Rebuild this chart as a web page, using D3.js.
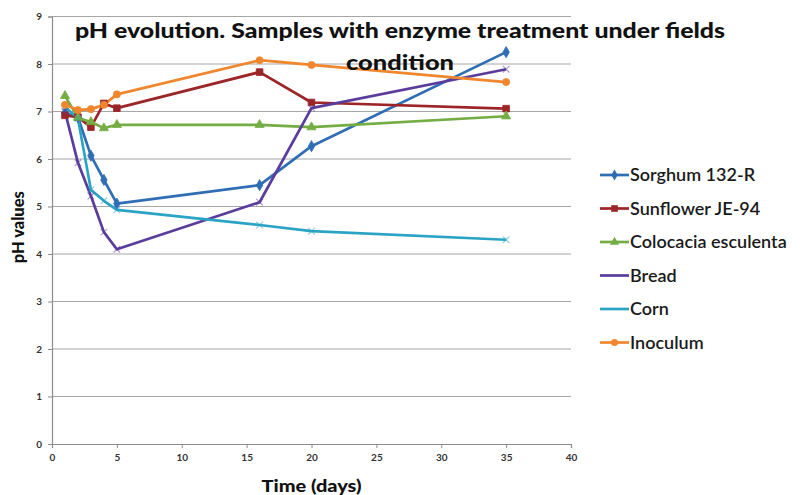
<!DOCTYPE html>
<html>
<head>
<meta charset="utf-8">
<script src="https://cdn.jsdelivr.net/npm/d3@7/dist/d3.min.js"></script>
<style>
  html, body { margin: 0; padding: 0; background: #ffffff; }
  svg { display: block; font-family: Lato, "Open Sans", sans-serif; }
</style>
</head>
<body>
<svg id="chart" width="800" height="495"></svg>
<script>
// Sampling days
const days = [1, 2, 3, 4, 5, 16, 20, 35];

// pH readings per sample
const sorghum    = [6.97, 6.88, 6.07, 5.56, 5.06, 5.45, 6.27, 8.25];
const sunflower  = [6.92, 6.88, 6.67, 7.17, 7.07, 7.83, 7.19, 7.06];
const colocacia  = [7.33, 6.87, 6.78, 6.65, 6.72, 6.72, 6.67, 6.90];
const bread      = [7.00, 5.92, 5.22, 4.46, 4.10, 5.09, 7.07, 7.89];
const corn       = [7.10, 6.85, 5.35, 5.12, 4.93, 4.61, 4.48, 4.30];
const inoculum   = [7.14, 7.03, 7.05, 7.14, 7.36, 8.08, 7.98, 7.62];

const seriesNames = ["Sorghum 132-R", "Sunflower JE-94", "Colocacia esculenta", "Bread", "Corn", "Inoculum"];
const seriesValues = [sorghum, sunflower, colocacia, bread, corn, inoculum];
const seriesColors = ["#2f6db5", "#9c2527", "#74ad43", "#5a3c9c", "#2aa3c4", "#f0862e"];
const seriesMarkers = ["diamond", "square", "triangle", "cross", "cross", "circle"];

const xTicks = [0, 5, 10, 15, 20, 25, 30, 35, 40];
const yTicks = [0, 1, 2, 3, 4, 5, 6, 7, 8, 9];

const titleLines = ["pH evolution. Samples with enzyme treatment under fields", "condition"];

const svg = d3.select("#chart");
const plot = { left: 52, right: 571, top: 16.5, bottom: 444 };

const x = d3.scaleLinear().domain([0, 40]).range([plot.left, plot.right]);
const y = d3.scaleLinear().domain([0, 9]).range([plot.bottom, plot.top]);

// Horizontal gridlines
svg.append("g")
  .selectAll("line")
  .data(yTicks.filter(d => d > 0))
  .join("line")
  .attr("x1", plot.left).attr("x2", plot.right)
  .attr("y1", d => y(d)).attr("y2", d => y(d))
  .attr("stroke", "#a6a6a6").attr("stroke-width", 1);

// Axes
const xAxis = d3.axisBottom(x).tickValues(xTicks).tickSize(4).tickPadding(6);
const yAxis = d3.axisLeft(y).tickValues(yTicks).tickSize(4).tickPadding(6);

const gx = svg.append("g").attr("transform", `translate(0,${plot.bottom})`).call(xAxis);
const gy = svg.append("g").attr("transform", `translate(${plot.left},0)`).call(yAxis);
[gx, gy].forEach(g => {
  g.select(".domain").attr("stroke", "#8c8c8c").attr("stroke-width", 1.2);
  g.selectAll(".tick line").attr("stroke", "#8c8c8c");
  g.selectAll(".tick text").attr("fill", "#333").attr("font-size", 10)
    .attr("font-weight", "bold")
    .attr("font-family", "Lato, sans-serif");
});

// Series lines
const line = d3.line().x((d, i) => x(days[i])).y(d => y(d));
const seriesGroup = svg.append("g");
seriesValues.forEach((vals, k) => {
  seriesGroup.append("path")
    .datum(vals)
    .attr("d", line)
    .attr("fill", "none")
    .attr("stroke", seriesColors[k])
    .attr("stroke-width", 2.7)
    .attr("stroke-linejoin", "round");
});

// Marker shapes
const symbolFor = {
  diamond: d3.symbol().type(d3.symbolDiamond).size(36),
  square: d3.symbol().type(d3.symbolSquare).size(44),
  triangle: d3.symbol().type(d3.symbolTriangle).size(36),
  circle: d3.symbol().type(d3.symbolCircle).size(40),
  cross: d3.symbol().type(d3.symbolX).size(30)
};

seriesValues.forEach((vals, k) => {
  const m = seriesMarkers[k];
  seriesGroup.append("g")
    .selectAll("path")
    .data(vals)
    .join("path")
    .attr("transform", (d, i) => `translate(${x(days[i])},${y(d)})`)
    .attr("d", symbolFor[m]())
    .attr("fill", m === "cross" ? "none" : seriesColors[k])
    .attr("stroke", seriesColors[k])
    .attr("stroke-width", m === "cross" ? 1.2 : 0.8)
    .attr("opacity", m === "cross" ? 0.5 : 1);
});

// Title
svg.append("g")
  .selectAll("text")
  .data(titleLines)
  .join("text")
  .attr("x", 400)
  .attr("y", (d, i) => 38 + i * 32)
  .attr("text-anchor", "middle")
  .attr("font-weight", "900")
  .attr("font-size", 21)
  .attr("fill", "#111")
  .attr("textLength", (d, i) => i === 0 ? 650 : 108)
  .attr("lengthAdjust", "spacingAndGlyphs")
  .text(d => d);

// Axis titles
svg.append("text")
  .attr("x", (plot.left + plot.right) / 2)
  .attr("y", 492)
  .attr("text-anchor", "middle")
  .attr("font-weight", "900")
  .attr("font-size", 17)
  .attr("fill", "#111")
  .attr("textLength", 100)
  .attr("lengthAdjust", "spacingAndGlyphs")
  .text("Time (days)");

svg.append("text")
  .attr("transform", `translate(24,${(plot.top + plot.bottom) / 2 - 3}) rotate(-90)`)
  .attr("text-anchor", "middle")
  .attr("font-weight", "900")
  .attr("font-size", 16)
  .attr("fill", "#111")
  .attr("textLength", 72)
  .attr("lengthAdjust", "spacingAndGlyphs")
  .text("pH values");

// Legend
const legend = svg.append("g");
seriesNames.forEach((name, k) => {
  const ly = 175 + k * 33.5;
  legend.append("line")
    .attr("x1", 600).attr("x2", 629)
    .attr("y1", ly).attr("y2", ly)
    .attr("stroke", seriesColors[k]).attr("stroke-width", 2.7);
  if (seriesMarkers[k] !== "cross") {
    legend.append("path")
      .attr("transform", `translate(614.5,${ly})`)
      .attr("d", symbolFor[seriesMarkers[k]]())
      .attr("fill", seriesColors[k]);
  }
  legend.append("text")
    .attr("x", 630)
    .attr("y", ly + 6)
    .attr("font-size", 18)
    .attr("font-weight", "600")
    .attr("fill", "#1a1a1a")
    .text(name);
});
</script>
</body>
</html>
